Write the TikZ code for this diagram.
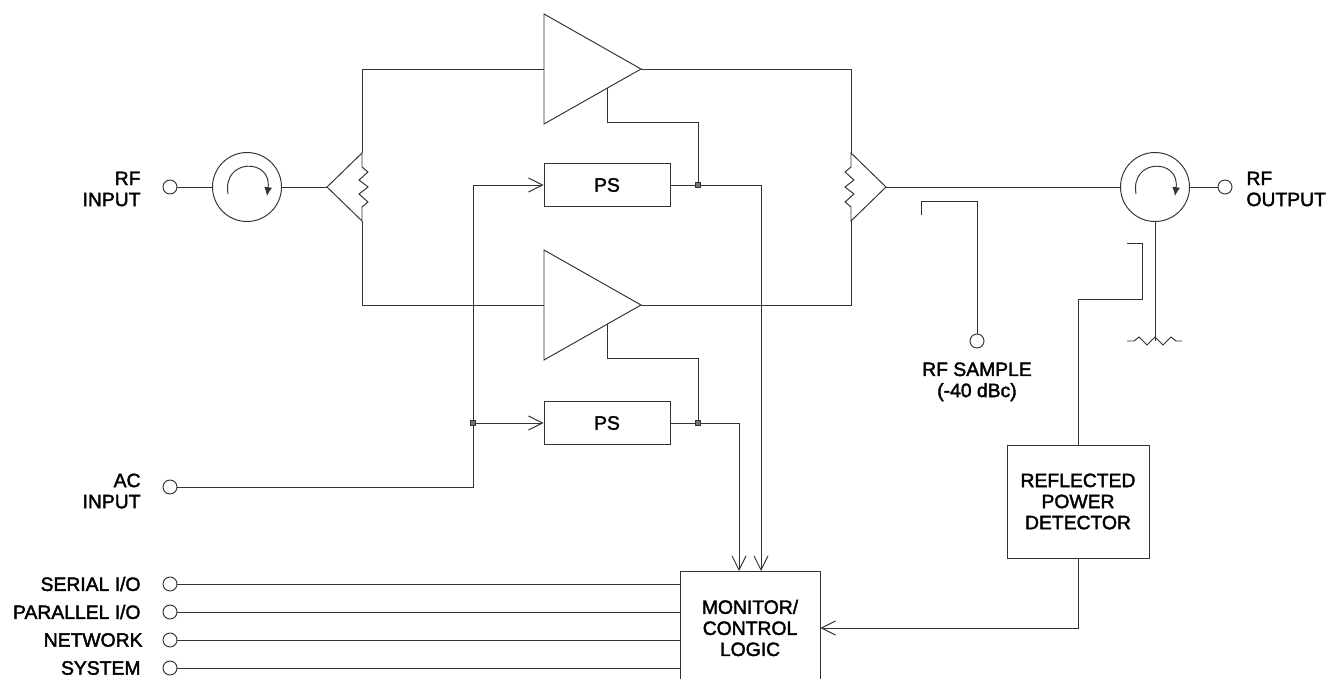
\documentclass[tikz,border=0pt]{standalone}
\usepackage{fontspec}
\newfontfamily\labelfont{Liberation Sans}[FakeBold=2]
\usetikzlibrary{arrows.meta,positioning,calc}

\begin{document}
\begin{tikzpicture}
[x=0.02cm, y=-0.02cm, line width=0.55pt, draw=black!80, >={Straight Barb[length=8pt,width=8pt]},
port/.style={circle, draw, inner sep=0pt, minimum size=2.8mm},
circulator/.style={circle, draw, inner sep=0pt, minimum size=13.8mm},
psbox/.style={rectangle, draw, inner sep=0pt, minimum width=25.2mm, minimum height=8.5mm},
tap/.style={rectangle, draw, fill=black!55, inner sep=0pt, minimum size=1.1mm},
txt/.style={font=\labelfont\fontsize{11}{12}\selectfont, inner sep=0pt, text=black}]

\useasboundingbox (0,0) rectangle (1332,679);

% input side
\node[port] (rfin) at (170,187) {};
\node[circulator] (circin) at (247,187) {};
\node[txt, anchor=east, align=right] (rfinlabel) at (141,189) {RF\\INPUT};
\draw (rfin) -- (circin);
\draw[-{Latex[length=5pt,width=4.5pt]}] (228,194) .. controls (222,158) and (272,158) .. (267,196);

% splitter
\coordinate (split) at (327,187);
\coordinate (splittop) at (362,153);
\coordinate (splitbot) at (362,221);
\draw (circin) -- (split);
\draw (split) -- (splittop) -- (362,167) -- (368,172) -- (359,180) -- (368,187) -- (359,194) -- (368,202) -- (362,207) -- (splitbot) -- cycle;

% amplifiers
\coordinate (ampAout) at (641,69);
\coordinate (ampBout) at (641,305);
\draw (544,14) -- (ampAout) -- (544,124) -- cycle;
\draw (544,250) -- (ampBout) -- (544,360) -- cycle;
\draw (splittop) -- (362,69) -- (544,69);
\draw (splitbot) -- (362,305) -- (544,305);

% combiner
\coordinate (comb) at (886,187);
\coordinate (combtop) at (851,153);
\coordinate (combbot) at (851,221);
\draw (comb) -- (combtop) -- (851,167) -- (845,172) -- (854,180) -- (845,187) -- (854,194) -- (845,202) -- (851,207) -- (combbot) -- cycle;
\draw (ampAout) -- (851,69) -- (combtop);
\draw (ampBout) -- (851,305) -- (combbot);

% output side
\node[circulator] (circout) at (1155,187) {};
\node[port] (rfout) at (1225,187) {};
\node[txt, anchor=west, align=left] (rfoutlabel) at (1246,189) {RF\\OUTPUT};
\draw (comb) -- (circout);
\draw (circout) -- (rfout);
\draw[-{Latex[length=5pt,width=4.5pt]}] (1136,194) .. controls (1130,158) and (1180,158) .. (1175,196);

% load
\coordinate (load) at (1155,341);
\draw (circout) -- (load);
\draw (1127,341) -- (1134,341) -- (1139,337) -- (1147,345) -- (1155,337) -- (1163,345) -- (1171,337) -- (1176,341) -- (1182,341);

% sample
\node[port] (rfsample) at (977,341) {};
\node[txt, align=center, anchor=north] (samplelabel) at (977,362) {RF SAMPLE\\(-40 dBc)};
\draw (921,215) -- (921,201) -- (977,201) -- (rfsample);

% power supplies
\node[psbox] (psA) at (607,185) {};
\node[txt] at (psA) {PS};
\node[psbox] (psB) at (607,423) {};
\node[txt] at (psB) {PS};
\node[tap] (tapA) at (698,185) {};
\node[tap] (tapB) at (698,423) {};
\node[tap] (tapAC) at (473,423) {};
\node[port] (acin) at (170,487) {};
\node[txt, anchor=east, align=right] (aclabel) at (141,491) {AC\\INPUT};
\draw (acin) -- (473,487) -- (tapAC);
\draw[->] (tapAC) -- (473,185) -- (psA.west);
\draw[->] (tapAC) -- (psB.west);
\draw (607,88) -- (607,122) -- (698,122) -- (tapA);
\draw (607,324) -- (607,358) -- (698,358) -- (tapB);
\draw (psA) -- (tapA);
\draw (psB) -- (tapB);

% monitor
\node[rectangle, draw, minimum width=28mm, minimum height=22.8mm, txt, align=center] (monitor) at (750,628) {MONITOR/\\CONTROL\\LOGIC};
\coordinate (monA) at (739,571);
\coordinate (monB) at (761,571);
\draw[->] (tapB) -- (739,423) -- (monA);
\draw[->] (tapA) -- (761,185) -- (monB);

% detector
\node[rectangle, draw, minimum width=28.4mm, minimum height=22.6mm, txt, align=center] (detector) at (1078,501.5) {REFLECTED\\POWER\\DETECTOR};
\draw (1127,243) -- (1142,243) -- (1142,299) -- (1078,299) -- (detector.north);
\draw[->] (detector.south) -- (1078,628) -- (monitor.east);

% i/o
\node[port] (serial) at (170,584) {};
\node[port] (parallel) at (170,612) {};
\node[port] (network) at (170,640) {};
\node[port] (system) at (170,668) {};
\node[txt, anchor=east] (seriallabel) at (141,584) {SERIAL I/O};
\node[txt, anchor=east] (parallellabel) at (141,612) {PARALLEL I/O};
\node[txt, anchor=east] (networklabel) at (143,640) {NETWORK};
\node[txt, anchor=east] (systemlabel) at (141,668) {SYSTEM};
\draw (serial) -- (serial -| monitor.west);
\draw (parallel) -- (parallel -| monitor.west);
\draw (network) -- (network -| monitor.west);
\draw (system) -- (system -| monitor.west);
\end{tikzpicture}
\end{document}
